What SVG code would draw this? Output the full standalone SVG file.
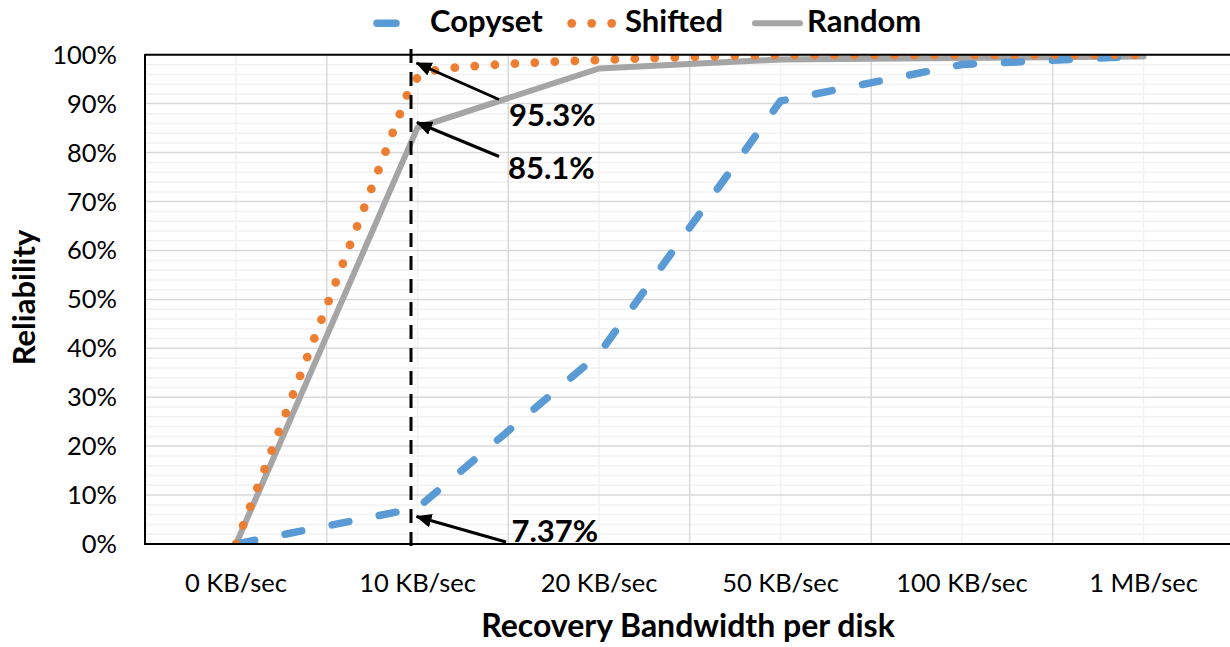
<svg xmlns="http://www.w3.org/2000/svg" width="1230" height="647" viewBox="0 0 1230 647">
  <style>
    text { font-family: Lato, "Liberation Sans", sans-serif; fill: #000; }
    .tick { font-size: 25.5px; }
    .ytick { text-anchor: end; }
    .xtick { text-anchor: middle; }
    .bold { font-weight: 700; font-size: 31px; }
    .minor { stroke: #f2f2f2; stroke-width: 1.5; fill: none; }
    .major { stroke: #d9d9d9; stroke-width: 1.5; fill: none; }
    .axis { stroke: #000; stroke-width: 2; fill: none; }
    .copyset { stroke: #5b9bd5; stroke-width: 7.5; fill: none; stroke-linecap: round; stroke-linejoin: round; stroke-dasharray: 17 31; }
    .shifted { stroke: #ed7d31; stroke-width: 8.8; fill: none; stroke-linecap: round; stroke-dasharray: 0 20; }
    .random { stroke: #a5a5a5; stroke-width: 6; fill: none; stroke-linecap: round; stroke-linejoin: round; }
    .pointer { stroke: #000; stroke-width: 3; fill: none; marker-end: url(#head); }
  </style>
  <defs>
    <marker id="head" markerUnits="userSpaceOnUse" markerWidth="16" markerHeight="14" refX="15" refY="7" orient="auto">
      <path d="M0,0 L16,7 L0,14 Z" fill="#000"/>
    </marker>
    <clipPath id="plot-clip">
      <rect x="145" y="54.7" width="1090" height="489.3"/>
    </clipPath>
  </defs>

  <rect width="1230" height="647" fill="#fff"/>

  <!-- plot area grid -->
  <g id="grid">
    <!-- minor horizontal lines every 2% -->
    <path class="minor" d="M145,534.2H1232 M145,524.4H1232 M145,514.6H1232 M145,504.9H1232
      M145,485.3H1232 M145,475.5H1232 M145,465.7H1232 M145,456H1232
      M145,436.4H1232 M145,426.6H1232 M145,416.8H1232 M145,407.1H1232
      M145,387.5H1232 M145,377.7H1232 M145,367.9H1232 M145,358.2H1232
      M145,338.6H1232 M145,328.8H1232 M145,319H1232 M145,309.3H1232
      M145,289.7H1232 M145,279.9H1232 M145,270.1H1232 M145,260.4H1232
      M145,240.8H1232 M145,231H1232 M145,221.2H1232 M145,211.5H1232
      M145,191.9H1232 M145,182.1H1232 M145,172.3H1232 M145,162.6H1232
      M145,143H1232 M145,133.2H1232 M145,123.4H1232 M145,113.7H1232
      M145,94.1H1232 M145,84.3H1232 M145,74.5H1232 M145,64.8H1232"/>
    <!-- minor vertical lines at category centres -->
    <path class="minor" d="M236,54.7V544 M417.5,54.7V544 M599,54.7V544 M780.5,54.7V544 M962,54.7V544 M1143.5,54.7V544"/>
    <!-- major lines -->
    <path class="major" d="M145,495.1H1232 M145,446.1H1232 M145,397.2H1232 M145,348.3H1232 M145,299.4H1232
      M145,250.4H1232 M145,201.5H1232 M145,152.6H1232 M145,103.6H1232"/>
    <path class="major" d="M326.7,54.7V544 M508.2,54.7V544 M689.7,54.7V544 M871.2,54.7V544 M1052.7,54.7V544"/>
  </g>

  <!-- data series, clipped to the plot area -->
  <g id="series" clip-path="url(#plot-clip)">
    <path id="series-random" class="random" d="M236,544 L417.5,127.6 L599,68.5 L780.5,59.5 L962,58 L1143.5,56.5"/>
    <path id="series-copyset" class="copyset" d="M238,543.6 L417.5,507.9 L599,354 L780.5,101 L962,64.5 L1143.5,56"/>
    <path id="series-shifted" class="shifted" d="M236,544 L409,90 C413,80 420,72 445,68.5 C500,63.5 560,61.5 599,60 C680,57 740,55.5 780.5,55 L1143.5,54.8"/>
  </g>

  <!-- plot frame and axes -->
  <g id="axes">
    <path class="axis" stroke-width="1.6" d="M145,54.7H1232"/>
    <path class="axis" d="M145,54V545 M144,544H1232"/>
  </g>

  <!-- reference line at 10 KB/sec -->
  <g id="marker-10kb">
    <path d="M411,49V549" stroke="#000" stroke-width="3" stroke-dasharray="14 9" fill="none"/>
  </g>

  <!-- callouts -->
  <g id="connectors">
    <path class="pointer" d="M499,99.5 L416.5,63"/>
    <path class="pointer" d="M499,156.5 L417,122.5"/>
    <path class="pointer" d="M506,542 L416.5,516.5"/>
  </g>
  <g id="label-shifted">
    <text class="bold" x="509" y="126">95.3%</text>
  </g>
  <g id="label-random">
    <text class="bold" x="508" y="178.5">85.1%</text>
  </g>
  <g id="label-copyset">
    <text class="bold" x="511.5" y="541.5">7.37%</text>
  </g>

  <!-- y axis -->
  <g id="y-axis">
    <text class="tick ytick" x="117" y="63.5">100%</text>
    <text class="tick ytick" x="117" y="112.6">90%</text>
    <text class="tick ytick" x="117" y="161.6">80%</text>
    <text class="tick ytick" x="117" y="210.5">70%</text>
    <text class="tick ytick" x="117" y="259.4">60%</text>
    <text class="tick ytick" x="117" y="308.4">50%</text>
    <text class="tick ytick" x="117" y="357.3">40%</text>
    <text class="tick ytick" x="117" y="406.2">30%</text>
    <text class="tick ytick" x="117" y="455.1">20%</text>
    <text class="tick ytick" x="117" y="504.1">10%</text>
    <text class="tick ytick" x="117" y="553">0%</text>
    <text class="bold" transform="translate(35,297.5) rotate(-90)" text-anchor="middle">Reliability</text>
  </g>

  <!-- x axis -->
  <g id="x-axis">
    <text class="tick xtick" x="236" y="591.5">0 KB/sec</text>
    <text class="tick xtick" x="417.5" y="591.5">10 KB/sec</text>
    <text class="tick xtick" x="599" y="591.5">20 KB/sec</text>
    <text class="tick xtick" x="780.5" y="591.5">50 KB/sec</text>
    <text class="tick xtick" x="962" y="591.5">100 KB/sec</text>
    <text class="tick xtick" x="1143.5" y="591.5">1 MB/sec</text>
    <text class="bold" x="688" y="637" text-anchor="middle" style="font-size:32px">Recovery Bandwidth per disk</text>
  </g>

  <!-- legend -->
  <g id="legend">
    <g id="legend-copyset">
      <path d="M377,23.3H396" stroke="#5b9bd5" stroke-width="7.5" stroke-linecap="round"/>
      <text class="bold" x="430" y="32.3">Copyset</text>
    </g>
    <g id="legend-shifted">
      <circle cx="571.7" cy="23.3" r="4.4" fill="#ed7d31"/>
      <circle cx="591.7" cy="23.3" r="4.4" fill="#ed7d31"/>
      <circle cx="611.7" cy="23.3" r="4.4" fill="#ed7d31"/>
      <text class="bold" x="625" y="32.3">Shifted</text>
    </g>
    <g id="legend-random">
      <path d="M755,23.3H800" stroke="#a5a5a5" stroke-width="6" stroke-linecap="round"/>
      <text class="bold" x="807" y="32.3">Random</text>
    </g>
  </g>
</svg>
